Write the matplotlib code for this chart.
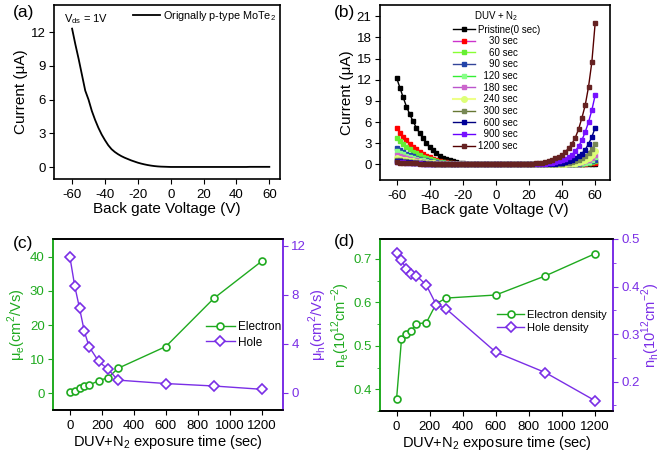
import numpy as np
import matplotlib.pyplot as plt

plt.rcParams['font.family'] = ['Liberation Sans', 'DejaVu Sans']
plt.rcParams['axes.unicode_minus'] = False
plt.rcParams['axes.linewidth'] = 1.2
plt.rcParams['xtick.major.size'] = 3.5
plt.rcParams['ytick.major.size'] = 3.5
plt.rcParams['xtick.labelsize'] = 9.5
plt.rcParams['ytick.labelsize'] = 9.5
plt.rcParams['ytick.major.pad'] = 2.5

# ---- data ----
# (a) transfer curve of pristine device, Vg = -60..60 step 2
vg = np.arange(-60, 61, 2)
cur_a = [12.3, 10.9, 9.6, 8.2, 6.8, 6.0, 5.0, 4.2, 3.5, 2.9, 2.4, 1.95, 1.6, 1.35, 1.15,
         0.98, 0.84, 0.72, 0.6, 0.5, 0.4, 0.32, 0.25, 0.19, 0.14, 0.1, 0.07, 0.05, 0.04, 0.03,
         0.02, 0.02, 0.02, 0.02, 0.02, 0.02, 0.02, 0.02, 0.02, 0.02, 0.02, 0.02, 0.02, 0.02, 0.02,
         0.02, 0.02, 0.02, 0.02, 0.02, 0.02, 0.02, 0.02, 0.02, 0.03, 0.03, 0.03, 0.03, 0.03, 0.03, 0.03]

# (b) transfer curves after DUV + N2 exposure
i_0 = [12.3, 10.9, 9.5, 8.2, 7.1, 6.1, 5.2, 4.4, 3.7, 3.05, 2.5, 2.0, 1.6, 1.25, 0.97, 0.75, 0.57, 0.43, 0.32, 0.24, 0.18,
       0.13, 0.09, 0.06, 0.04, 0.03, 0.02, 0.01, 0.01, 0, 0, 0, 0, 0, 0, 0, 0, 0, 0, 0,
       0, 0, 0, 0, 0, 0, 0, 0, 0, 0, 0, 0.01, 0.01, 0.01, 0.02, 0.02, 0.02, 0.03, 0.03, 0.04, 0.05]
i_30 = [5.1, 4.5, 3.95, 3.4, 2.95, 2.5, 2.15, 1.8, 1.5, 1.25, 1.03, 0.83, 0.66, 0.52, 0.4, 0.31, 0.24, 0.18, 0.13, 0.1, 0.07,
        0.05, 0.04, 0.03, 0.02, 0.01, 0.01, 0, 0, 0, 0, 0, 0, 0, 0, 0, 0, 0, 0, 0,
        0, 0, 0, 0, 0, 0, 0, 0, 0, 0, 0.01, 0.01, 0.02, 0.03, 0.04, 0.05, 0.07, 0.1, 0.14, 0.19, 0.25]
i_60 = [3.7, 3.28, 2.86, 2.47, 2.14, 1.84, 1.56, 1.32, 1.11, 0.92, 0.75, 0.6, 0.48, 0.38, 0.29, 0.23, 0.17, 0.13, 0.1, 0.07, 0.05,
        0.04, 0.03, 0.02, 0.01, 0.01, 0, 0, 0, 0, 0, 0, 0, 0, 0, 0, 0, 0, 0, 0,
        0, 0, 0, 0, 0, 0, 0, 0, 0, 0.01, 0.01, 0.02, 0.03, 0.04, 0.06, 0.08, 0.11, 0.15, 0.21, 0.31, 0.45]
i_90 = [2.3, 2.04, 1.78, 1.54, 1.33, 1.14, 0.97, 0.82, 0.69, 0.57, 0.47, 0.37, 0.3, 0.23, 0.18, 0.14, 0.11, 0.08, 0.06, 0.04, 0.03,
        0.02, 0.02, 0.01, 0.01, 0, 0, 0, 0, 0, 0, 0, 0, 0, 0, 0, 0, 0, 0, 0,
        0, 0, 0, 0, 0, 0, 0, 0, 0.01, 0.01, 0.02, 0.03, 0.04, 0.06, 0.08, 0.11, 0.15, 0.21, 0.3, 0.46, 0.7]
i_120 = [1.9, 1.68, 1.47, 1.27, 1.1, 0.94, 0.8, 0.68, 0.57, 0.47, 0.39, 0.31, 0.25, 0.19, 0.15, 0.12, 0.09, 0.07, 0.05, 0.04, 0.03,
         0.02, 0.01, 0.01, 0, 0, 0, 0, 0, 0, 0, 0, 0, 0, 0, 0, 0, 0, 0, 0,
         0, 0, 0, 0, 0, 0, 0, 0.01, 0.01, 0.02, 0.03, 0.04, 0.06, 0.08, 0.11, 0.15, 0.2, 0.28, 0.4, 0.62, 1.0]
i_180 = [1.35, 1.2, 1.05, 0.9, 0.78, 0.67, 0.57, 0.48, 0.41, 0.34, 0.27, 0.22, 0.18, 0.14, 0.11, 0.08, 0.06, 0.05, 0.04, 0.03, 0.02,
         0.01, 0.01, 0, 0, 0, 0, 0, 0, 0, 0, 0, 0, 0, 0, 0, 0, 0, 0, 0,
         0, 0, 0, 0, 0, 0, 0.01, 0.02, 0.03, 0.04, 0.06, 0.08, 0.11, 0.15, 0.2, 0.27, 0.36, 0.48, 0.65, 0.95, 1.4]
i_240 = [0.9, 0.8, 0.7, 0.6, 0.52, 0.45, 0.38, 0.32, 0.27, 0.22, 0.18, 0.15, 0.12, 0.09, 0.07, 0.05, 0.04, 0.03, 0.02, 0.02, 0.01,
         0.01, 0, 0, 0, 0, 0, 0, 0, 0, 0, 0, 0, 0, 0, 0, 0, 0, 0, 0,
         0, 0, 0, 0, 0, 0.01, 0.02, 0.03, 0.04, 0.06, 0.08, 0.11, 0.15, 0.2, 0.27, 0.36, 0.48, 0.65, 0.9, 1.28, 1.85]
i_300 = [0.7, 0.62, 0.54, 0.47, 0.41, 0.35, 0.3, 0.25, 0.21, 0.17, 0.14, 0.11, 0.09, 0.07, 0.05, 0.04, 0.03, 0.02, 0.02, 0.01, 0.01,
         0, 0, 0, 0, 0, 0, 0, 0, 0, 0, 0, 0, 0, 0, 0, 0, 0, 0, 0,
         0, 0, 0, 0, 0.01, 0.02, 0.03, 0.04, 0.06, 0.09, 0.13, 0.18, 0.25, 0.34, 0.47, 0.64, 0.88, 1.2, 1.65, 2.2, 2.9]
i_600 = [0.5, 0.44, 0.39, 0.34, 0.29, 0.25, 0.21, 0.18, 0.15, 0.12, 0.1, 0.08, 0.06, 0.05, 0.04, 0.03, 0.02, 0.02, 0.01, 0.01, 0.01,
         0, 0, 0, 0, 0, 0, 0, 0, 0, 0, 0, 0, 0, 0, 0, 0, 0, 0, 0,
         0, 0.01, 0.01, 0.02, 0.03, 0.04, 0.06, 0.09, 0.12, 0.17, 0.24, 0.33, 0.45, 0.62, 0.85, 1.15, 1.55, 2.1, 2.9, 3.9, 5.2]
i_900 = [0.4, 0.35, 0.31, 0.27, 0.23, 0.2, 0.17, 0.14, 0.12, 0.1, 0.08, 0.06, 0.05, 0.04, 0.03, 0.02, 0.02, 0.01, 0.01, 0.01, 0,
         0, 0, 0, 0, 0, 0, 0, 0, 0, 0, 0, 0, 0, 0, 0, 0, 0, 0, 0,
         0.02, 0.03, 0.04, 0.06, 0.09, 0.12, 0.17, 0.23, 0.32, 0.43, 0.58, 0.78, 1.05, 1.4, 1.9, 2.55, 3.45, 4.6, 6.0, 7.7, 9.8]
i_1200 = [0.3, 0.27, 0.24, 0.21, 0.18, 0.16, 0.14, 0.12, 0.1, 0.08, 0.07, 0.06, 0.05, 0.04, 0.03, 0.03, 0.02, 0.02, 0.01, 0.01, 0.01,
          0.01, 0.01, 0, 0, 0, 0, 0, 0, 0, 0, 0, 0, 0, 0, 0, 0.01, 0.01, 0.02, 0.03,
          0.06, 0.1, 0.14, 0.2, 0.28, 0.38, 0.5, 0.65, 0.85, 1.1, 1.4, 1.8, 2.3, 2.95, 3.8, 5.0, 6.6, 8.4, 11.0, 14.5, 20.0]

b_series = [i_0, i_30, i_60, i_90, i_120, i_180, i_240, i_300, i_600, i_900, i_1200]
b_labels = ['Pristine(0 sec)', '    30 sec', '    60 sec', '    90 sec', '  120 sec', '  180 sec',
            '  240 sec', '  300 sec', '  600 sec', '  900 sec', '1200 sec']
b_line_colors = ['black', '#CC33CC', '#88FF33', '#334499', '#33EE33', '#BB55CC',
                 '#EEFF88', '#667733', '#000080', '#6600FF', '#550000']
b_marker_colors = ['black', '#FF0000', '#66EE33', '#2244AA', '#88FF88', '#CC66CC',
                   '#DDFF77', '#778855', '#000099', '#7711FF', '#662222']

# (c) mobility and (d) carrier density vs exposure time
t_exp = [0, 30, 60, 90, 120, 180, 240, 300, 600, 900, 1200]
mu_e = [0.5, 0.8, 1.5, 2.2, 2.4, 3.7, 4.6, 7.3, 13.7, 27.8, 38.7]
mu_h = [11.05, 8.7, 6.9, 5.0, 3.75, 2.55, 1.9, 1.03, 0.75, 0.55, 0.28]
n_e = [0.377, 0.515, 0.527, 0.535, 0.551, 0.553, 0.597, 0.610, 0.617, 0.661, 0.712]
n_h = [0.47, 0.455, 0.437, 0.426, 0.423, 0.403, 0.362, 0.353, 0.262, 0.219, 0.16]

green = '#1FAA1F'
purple = '#7A2EE6'

fig = plt.figure(figsize=(6.61, 4.54), dpi=100)

# ---- (a) ----
ax = fig.add_axes([0.0817, 0.6057, 0.3419, 0.3833])
ax.plot(vg, cur_a, color='black', lw=1.3, label='Orignally p-type MoTe$_\\mathregular{2}$')
ax.set_xlim(-71, 66.5)
ax.set_ylim(-1.05, 14.4)
ax.set_xticks(range(-60, 61, 20))
ax.set_yticks(range(0, 13, 3))
ax.set_xlabel('Back gate Voltage (V)', fontsize=11, labelpad=1)
ax.set_ylabel('Current (\u03bcA)', fontsize=11, labelpad=2)
ax.text(0.045, 0.92, 'V$_\\mathregular{ds}$ = 1V', transform=ax.transAxes, fontsize=8, va='center')
ax.legend(loc='upper right', frameon=False, fontsize=7.8, handlelength=2.5, handletextpad=0.3,
          borderaxespad=0.05, borderpad=0.3)
fig.text(0.02, 0.99, '(a)', fontsize=12.5, va='top')

# ---- (b) ----
ax = fig.add_axes([0.5749, 0.6035, 0.3480, 0.3855])
for ys, lab, lc, mc in zip(b_series, b_labels, b_line_colors, b_marker_colors):
    if lab.strip() == '240 sec':
        ax.plot(vg, ys, color=lc, lw=1.5, marker='o', ms=4, mfc=mc, mec=mc, label=lab)
    else:
        ax.plot(vg, ys, color=lc, lw=1.0, marker='s', ms=3, mfc=mc, mec=mc, label=lab)
ax.set_xlim(-70, 69)
ax.set_ylim(-2.2, 22.6)
ax.set_xticks(range(-60, 61, 20))
ax.set_yticks(range(0, 22, 3))
ax.set_xlabel('Back gate Voltage (V)', fontsize=11, labelpad=1)
ax.set_ylabel('Current (\u03bcA)', fontsize=11, labelpad=2)
leg = ax.legend(loc='upper left', bbox_to_anchor=(0.29, 1.01), frameon=False, fontsize=7,
                title='DUV + N$_\\mathregular{2}$', title_fontsize=7, handlelength=2.3,
                handletextpad=0.3, labelspacing=0.17, borderpad=0.1)
fig.text(0.505, 0.99, '(b)', fontsize=12.5, va='top')


def style_twin(ax, ax2):
    ax.spines['left'].set_color(green)
    ax2.spines['left'].set_color(green)
    ax.spines['right'].set_color(purple)
    ax2.spines['right'].set_color(purple)
    ax.tick_params(axis='y', colors=green)
    ax2.tick_params(axis='y', colors=purple)
    ax.yaxis.label.set_color(green)
    ax2.yaxis.label.set_color(purple)


# ---- (c) ----
ax = fig.add_axes([0.0802, 0.0969, 0.3480, 0.3767])
ax2 = ax.twinx()
l1, = ax.plot(t_exp, mu_e, color=green, lw=1.0, marker='o', ms=5, mfc='white', mew=1.2, label='Electron')
l2, = ax2.plot(t_exp, mu_h, color=purple, lw=1.0, marker='D', ms=5, mfc='white', mew=1.2, label='Hole')
ax.set_xlim(-106, 1333)
ax.set_ylim(-4.9, 45.2)
ax2.set_ylim(-1.41, 12.55)
ax.set_xticks(range(0, 1201, 200))
ax.set_yticks(range(0, 41, 10))
ax2.set_yticks(range(0, 13, 4))
ax.set_xlabel('DUV+N$_\\mathregular{2}$ exposure time (sec)', fontsize=10.5, labelpad=1)
ax.set_ylabel('\u03bc$_\\mathregular{e}$(cm$^\\mathregular{2}$/Vs)', fontsize=10.5, labelpad=1)
ax2.set_ylabel('\u03bc$_\\mathregular{h}$(cm$^\\mathregular{2}$/Vs)', fontsize=10.5, labelpad=0)
style_twin(ax, ax2)
ax2.legend(handles=[l1, l2], loc='center left', bbox_to_anchor=(0.62, 0.44), frameon=False,
           fontsize=8.5, handlelength=2.4, handletextpad=0.3, labelspacing=0.3)
fig.text(0.02, 0.48, '(c)', fontsize=12.5, va='top')

# ---- (d) ----
ax = fig.add_axes([0.5749, 0.0947, 0.3525, 0.3789])
ax2 = ax.twinx()
l1, = ax.plot(t_exp, n_e, color=green, lw=1.0, marker='o', ms=5, mfc='white', mew=1.2, label='Electron density')
l2, = ax2.plot(t_exp, n_h, color=purple, lw=1.0, marker='D', ms=5, mfc='white', mew=1.2, label='Hole density')
ax.set_xlim(-100, 1310)
ax.set_ylim(0.352, 0.746)
ax2.set_ylim(0.138, 0.5)
ax.set_xticks(range(0, 1201, 200))
ax.set_yticks([0.4, 0.5, 0.6, 0.7])
ax.set_yticks([0.35, 0.45, 0.55, 0.65], minor=True)
ax2.set_yticks([0.2, 0.3, 0.4, 0.5])
ax2.set_yticks([0.15, 0.25, 0.35, 0.45], minor=True)
ax.tick_params(axis='y', which='minor', length=2, colors=green)
ax2.tick_params(axis='y', which='minor', length=2, colors=purple)
ax.set_xlabel('DUV+N$_\\mathregular{2}$ exposure time (sec)', fontsize=10.5, labelpad=1)
ax.set_ylabel('n$_\\mathregular{e}$(10$^\\mathregular{12}$cm$^\\mathregular{-2}$)', fontsize=10.5, labelpad=1)
ax2.set_ylabel('n$_\\mathregular{h}$(10$^\\mathregular{12}$cm$^\\mathregular{-2}$)', fontsize=10.5, labelpad=0)
style_twin(ax, ax2)
ax2.legend(handles=[l1, l2], loc='center left', bbox_to_anchor=(0.46, 0.52), frameon=False,
           fontsize=8, handlelength=2.4, handletextpad=0.3, labelspacing=0.3)
fig.text(0.505, 0.485, '(d)', fontsize=12.5, va='top')

fig.savefig('out.png', dpi=100)
